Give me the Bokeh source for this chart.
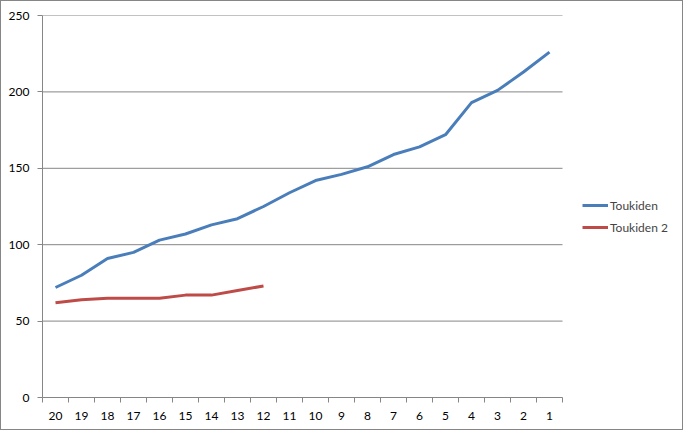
from bokeh.plotting import figure
from bokeh.models import FixedTicker, Legend, LegendItem, Range1d
from bokeh.embed import file_html
from bokeh.resources import INLINE

categories = ["20", "19", "18", "17", "16", "15", "14", "13", "12", "11",
              "10", "9", "8", "7", "6", "5", "4", "3", "2", "1"]
toukiden = [72, 80, 91, 95, 103, 107, 113, 117, 125, 134,
            142, 146, 151, 159, 164, 172, 193, 201, 213, 226]
toukiden2 = [62, 64, 65, 65, 65, 67, 67, 70, 73]
y_ticks = [0, 50, 100, 150, 200, 250]

n = len(categories)
xs = [i + 0.5 for i in range(n)]

W, H = 683, 430
left = 41
# plot area: 520 px for the categories, extra room on the right for the legend
plot_px = 520
frame_px = W - left
x_end = n * frame_px / plot_px

p = figure(width=W, height=H, output_backend="svg", toolbar_location=None,
           x_range=Range1d(0, x_end), y_range=Range1d(0, 250),
           min_border_left=left, min_border_right=0, min_border_top=14, min_border_bottom=34,
           styles={"border": "1px solid #868686"})
p.outline_line_color = None
p.background_fill_color = "white"
p.border_fill_color = "white"

# horizontal gridlines limited to the category area
grid_y = y_ticks[1:]
p.segment(x0=[0] * len(grid_y), x1=[n] * len(grid_y), y0=grid_y, y1=grid_y,
          line_color="#868686", line_width=1)

r1 = p.line(xs, toukiden, line_color="#4A7EBB", line_width=3)
r2 = p.line(xs[:len(toukiden2)], toukiden2, line_color="#BE4B48", line_width=3)

font = "Lato"
# x axis
p.xaxis.bounds = (0, n)
p.xaxis.ticker = FixedTicker(ticks=xs, minor_ticks=list(range(n + 1)))
p.xaxis.major_label_overrides = {x: c for x, c in zip(xs, categories)}
p.xaxis.major_tick_line_color = None
p.xaxis.minor_tick_line_color = "#868686"
p.xaxis.minor_tick_out = 5
p.xaxis.minor_tick_in = 0
p.xaxis.axis_line_color = "#868686"
p.xaxis.major_label_standoff = 8
p.xaxis.major_label_text_font = font
p.xaxis.major_label_text_font_size = "12px"
p.xaxis.major_label_text_color = "black"

# y axis
p.yaxis.ticker = FixedTicker(ticks=y_ticks)
p.yaxis.minor_tick_line_color = None
p.yaxis.major_tick_out = 5
p.yaxis.major_tick_in = 0
p.yaxis.major_tick_line_color = "#868686"
p.yaxis.axis_line_color = "#868686"
p.yaxis.major_label_standoff = 8
p.yaxis.major_label_text_font = font
p.yaxis.major_label_text_font_size = "12px"
p.yaxis.major_label_text_color = "black"

p.xgrid.grid_line_color = None
p.ygrid.grid_line_color = None

legend = Legend(items=[LegendItem(label="Toukiden", renderers=[r1]),
                       LegendItem(label="Toukiden 2", renderers=[r2])],
                location=(540, 160), margin=0, padding=0, spacing=2,
                glyph_width=26, glyph_height=20, label_standoff=2,
                label_text_font=font, label_text_font_size="12px",
                border_line_color=None, background_fill_alpha=0)
p.add_layout(legend, "center")

open("out.html", "w").write(file_html(p, INLINE))
